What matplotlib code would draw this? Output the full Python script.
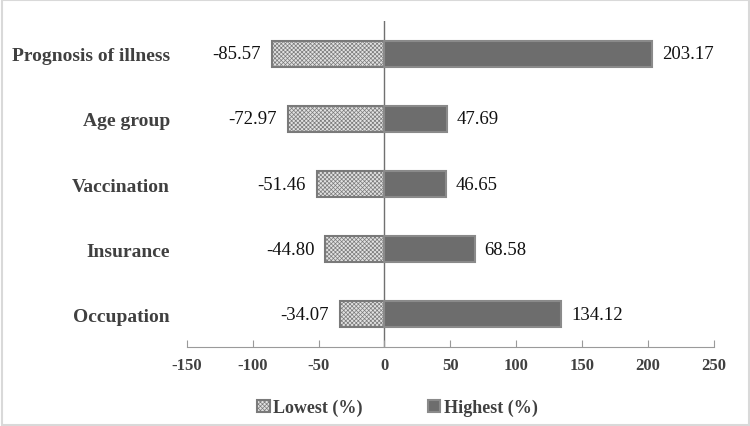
import matplotlib.pyplot as plt
from matplotlib.patches import Rectangle
import numpy as np

plt.rcParams['font.family'] = ['Liberation Serif', 'DejaVu Serif']
plt.rcParams['hatch.color'] = '#a0a0a0'
plt.rcParams['hatch.linewidth'] = 0.5

categories = ['Prognosis of illness', 'Age group', 'Vaccination', 'Insurance', 'Occupation']
lowest = [-85.57, -72.97, -51.46, -44.80, -34.07]
highest = [203.17, 47.69, 46.65, 68.58, 134.12]
xticks = [-150, -100, -50, 0, 50, 100, 150, 200, 250]

fig = plt.figure(figsize=(7.5, 4.27), dpi=100)
fig.patches.append(Rectangle((0.002, 0.002), 0.996, 0.996, transform=fig.transFigure,
                             fill=False, edgecolor='#d9d9d9', linewidth=1.5))
ax = fig.add_axes([0.249, 0.185, 0.703, 0.763])

y = np.arange(len(categories))
b1 = ax.barh(y, lowest, height=0.4, color='#e2e2e2', edgecolor='#7a7a7a',
             hatch='xxxxxxxx', linewidth=1.5, label='Lowest (%)')
b2 = ax.barh(y, highest, height=0.4, color='#6d6d6d', edgecolor='#8a8a8a',
             linewidth=1.5, label='Highest (%)')

for yi, v in zip(y, lowest):
    ax.annotate(f'{v:.2f}', (v, yi), xytext=(-8, 0), textcoords='offset points',
                ha='right', va='center', fontsize=13.5, color='#111111')
for yi, v in zip(y, highest):
    ax.annotate(f'{v:.2f}', (v, yi), xytext=(7, 0), textcoords='offset points',
                ha='left', va='center', fontsize=13.5, color='#111111')

ax.set_xlim(-150, 250)
ax.set_ylim(4.5, -0.5)
ax.axvline(0, color='#707070', linewidth=1, zorder=0)

ax.set_yticks(y)
ax.set_yticklabels(categories, fontsize=14, fontweight='bold', color='#404040')
ax.tick_params(axis='y', length=0, pad=12)
ax.set_xticks(xticks)
ax.set_xticklabels([str(t) for t in xticks], fontsize=12, fontweight='bold', color='#404040')
ax.tick_params(axis='x', direction='in', length=5, color='#9a9a9a', pad=7)

for s in ['top', 'right', 'left']:
    ax.spines[s].set_visible(False)
ax.spines['bottom'].set_color('#9a9a9a')

leg = fig.legend(handles=[b1, b2], loc='center', bbox_to_anchor=(0.53, 0.043), ncol=2,
                 frameon=False, handlelength=0.7, handleheight=0.7, columnspacing=3.6,
                 handletextpad=0.2, prop={'size': 13, 'weight': 'bold'})
for t in leg.get_texts():
    t.set_color('#404040')

fig.savefig('out.png', dpi=100)
